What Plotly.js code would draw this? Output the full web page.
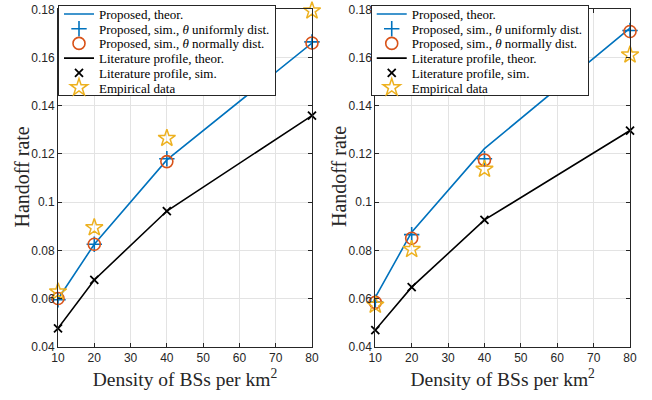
<!DOCTYPE html>
<html>
<head>
<meta charset="utf-8">
<script src="https://cdn.plot.ly/plotly-3.0.1.min.js"></script>
<style>html,body{margin:0;padding:0;background:#fff;}#chart{width:652px;height:400px;}</style>
</head>
<body>
<div id="chart"></div>
<script>
// ---- data ----
var density = [10, 20, 40, 80];

// left panel
var propTheorL = [0.0598, 0.0825, 0.1175, 0.1660];
var propUniL   = [0.0595, 0.0825, 0.1180, 0.1665];
var propNormL  = [0.0600, 0.0825, 0.1168, 0.1660];
var litTheorL  = [0.0476, 0.0677, 0.0963, 0.1359];
var litSimL    = [0.0476, 0.0677, 0.0963, 0.1359];
var empL       = [0.0628, 0.0894, 0.1265, 0.1794];

// right panel
var propTheorR = [0.0605, 0.0875, 0.1222, 0.1722];
var propUniR   = [0.0585, 0.0865, 0.1180, 0.1712];
var propNormR  = [0.0584, 0.0850, 0.1175, 0.1708];
var litTheorR  = [0.0469, 0.0647, 0.0926, 0.1297];
var litSimR    = [0.0469, 0.0647, 0.0926, 0.1297];
var empR       = [0.0573, 0.0804, 0.1137, 0.1611];

var names = ["Proposed, theor.",
             "Proposed, sim., <i>θ</i> uniformly dist.",
             "Proposed, sim., <i>θ</i> normally dist.",
             "Literature profile, theor.",
             "Literature profile, sim.",
             "Empirical data"];

var xTitle = "Density of BSs per km<sup>2</sup>";
var yTitle = "Handoff rate";

var xTickVals = [10, 20, 30, 40, 50, 60, 70, 80];
var xTickText = ["10", "20", "30", "40", "50", "60", "70", "80"];
var yTickVals = [0.04, 0.06, 0.08, 0.10, 0.12, 0.14, 0.16, 0.18];
var yTickText = ["0.04", "0.06", "0.08", "0.1", "0.12", "0.14", "0.16", "0.18"];

var BLUE = "#0072BD", ORANGE = "#D95319", GOLD = "#EDB120", DARK = "#262626";
var SERIF = "Liberation Serif, Times New Roman, serif";
var SANS = "Liberation Sans, Arial, sans-serif";

function panel(xa, ya, leg, pt, pu, pn, lt, ls, em) {
  return [
    {x: density, y: pt, xaxis: xa, yaxis: ya, legend: leg, name: names[0], mode: "lines",
     line: {color: BLUE, width: 1.6}},
    {x: density, y: pu, xaxis: xa, yaxis: ya, legend: leg, name: names[1], mode: "markers", cliponaxis: false,
     marker: {symbol: "cross-thin", size: 11, color: BLUE, line: {color: BLUE, width: 1.6}}},
    {x: density, y: pn, xaxis: xa, yaxis: ya, legend: leg, name: names[2], mode: "markers", cliponaxis: false,
     marker: {symbol: "circle-open", size: 12, color: ORANGE, line: {color: ORANGE, width: 1.6}}},
    {x: density, y: lt, xaxis: xa, yaxis: ya, legend: leg, name: names[3], mode: "lines",
     line: {color: "#000000", width: 1.6}},
    {x: density, y: ls, xaxis: xa, yaxis: ya, legend: leg, name: names[4], mode: "markers", cliponaxis: false,
     marker: {symbol: "x-thin", size: 8, color: "#000000", line: {color: "#000000", width: 1.8}}},
    {x: density, y: em, xaxis: xa, yaxis: ya, legend: leg, name: names[5], mode: "markers", cliponaxis: false,
     marker: {symbol: "star-open", size: 13, color: GOLD, line: {color: GOLD, width: 1.5}}}
  ];
}

var data = [].concat(
  panel("x", "y", "legend", propTheorL, propUniL, propNormL, litTheorL, litSimL, empL),
  panel("x2", "y2", "legend2", propTheorR, propUniR, propNormR, litTheorR, litSimR, empR)
);

var tickFont = {family: SANS, size: 12, color: DARK};

function xAxis(dom, anchor) {
  return {domain: dom, anchor: anchor, range: [10, 80], tickvals: xTickVals, ticktext: xTickText,
    showline: true, mirror: "ticks", linecolor: DARK, linewidth: 1, ticks: "inside", ticklen: 4,
    tickcolor: DARK, showgrid: true, gridcolor: "#e3e3e3", gridwidth: 1, zeroline: false,
    tickfont: tickFont, title: {text: xTitle, font: {family: SERIF, size: 19.5, color: DARK}, standoff: 8}};
}
function yAxis(anchor) {
  return {domain: [0.13325, 0.97675], anchor: anchor, range: [0.04, 0.18], tickvals: yTickVals, ticktext: yTickText,
    showline: true, mirror: "ticks", linecolor: DARK, linewidth: 1, ticks: "inside", ticklen: 4,
    tickcolor: DARK, showgrid: true, gridcolor: "#e3e3e3", gridwidth: 1, zeroline: false,
    tickfont: tickFont};
}

var legendStyle = function (xpos) {
  return {x: xpos, y: 0.9875, xanchor: "left", yanchor: "top", bgcolor: "#ffffff",
    bordercolor: DARK, borderwidth: 1, tracegroupgap: 0,
    font: {family: SERIF, size: 13, color: "#000000"}};
};

function yTitleAnn(xpx) {
  return {text: yTitle, xref: "paper", yref: "paper", x: xpx / 652, y: 1 - 177 / 400,
    xanchor: "center", yanchor: "middle", textangle: -90, showarrow: false,
    font: {family: SERIF, size: 20, color: DARK}};
}

var layout = {
  width: 652, height: 400,
  margin: {l: 0, r: 0, t: 0, b: 0},
  font: {family: SERIF, size: 13, color: "#000000"},
  paper_bgcolor: "#ffffff", plot_bgcolor: "#ffffff",
  showlegend: true,
  xaxis: xAxis([0.08896, 0.4785], "y"),
  yaxis: yAxis("x"),
  xaxis2: xAxis([0.5756, 0.9663], "y2"),
  yaxis2: yAxis("x2"),
  legend: legendStyle(0.08896),
  legend2: legendStyle(0.5686),
  annotations: [yTitleAnn(21.5), yTitleAnn(339)]
};

// compress legend row spacing to match the reference's tighter legend
function tightenLegends(gd) {
  var ROW = 14.7, TOP = 9, BOTTOM = 7;
  gd.querySelectorAll("g.legend, g.legend2").forEach(function (lg) {
    var traces = lg.querySelectorAll("g.traces");
    traces.forEach(function (t, i) {
      var tr = t.getAttribute("transform") || "";
      var m = tr.match(/translate\(([-\d.]+)[ ,]+([-\d.]+)\)/);
      var tx = m ? parseFloat(m[1]) : 0;
      t.setAttribute("transform", "translate(" + tx + "," + (TOP + i * ROW) + ")");
    });
    var h = TOP + (traces.length - 1) * ROW + BOTTOM;
    var bg = lg.querySelector("rect.bg");
    if (bg) bg.setAttribute("height", h);
    lg.querySelectorAll("[clip-path]").forEach(function (el) {
      var cp = el.getAttribute("clip-path");
      var m = cp && cp.match(/#([^)'"]+)/);
      if (m) {
        var clip = document.getElementById(m[1]);
        if (clip) clip.querySelectorAll("rect").forEach(function (r) { r.setAttribute("height", h + 20); });
      }
    });
  });
}

Plotly.newPlot("chart", data, layout, {displayModeBar: false, staticPlot: true}).then(function (gd) {
  tightenLegends(gd);
});
</script>
</body>
</html>
